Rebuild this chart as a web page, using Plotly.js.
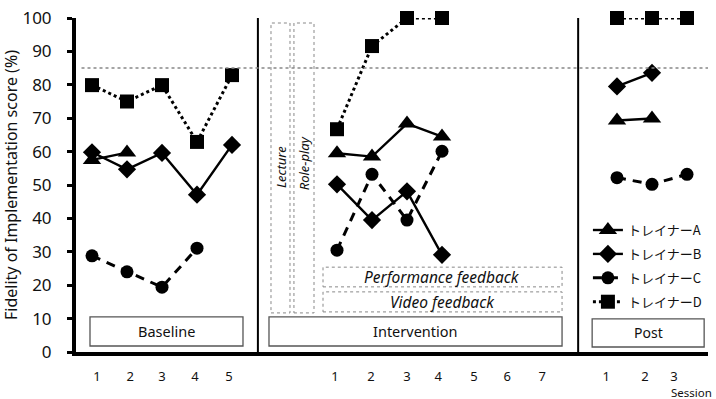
<!DOCTYPE html>
<html>
<head>
<meta charset="utf-8">
<script src="https://cdn.plot.ly/plotly-3.0.1.min.js"></script>
<style>html,body{margin:0;padding:0;background:#fff;}#chart{width:716px;height:399px;}</style>
</head>
<body>
<div id="chart"></div>
<script>
// ---- data (session values per phase, null = no session) ----
const trainers = ["トレイナーA", "トレイナーB", "トレイナーC", "トレイナーD"];
const baselineA = [57.5, 59.7, null, null, null];
const baselineB = [59.8, 54.7, 59.6, 47.1, 62.0];
const baselineC = [28.8, 24.0, 19.4, 31.1, null];
const baselineD = [79.9, 75.0, 79.9, 62.9, 82.9];
const interventionA = [59.5, 58.5, 68.4, 64.5, null, null, null];
const interventionB = [50.2, 39.5, 48.1, 29.1, null, null, null];
const interventionC = [30.5, 53.2, 39.5, 60.1, null, null, null];
const interventionD = [66.7, 91.6, 100, 100, null, null, null];
const postA = [69.3, 69.9, null];
const postB = [79.5, 83.6, null];
const postC = [52.2, 50.2, 53.2];
const postD = [100, 100, 100];
const criterion = 85;
const tickText = ["1","2","3","4","5","1","2","3","4","5","6","7","1","2","3"];
const phaseLabels = ["Baseline", "Intervention", "Post"];
const componentLabels = ["Lecture", "Role-play", "Performance feedback", "Video feedback"];

// ---- layout helpers ----
const phaseOffset = {baseline: 0, intervention: 7, post: 15};
function build(b, i, p) {
  const xs = [], ys = [];
  b.forEach((v, k) => { xs.push(k + 1 + phaseOffset.baseline); ys.push(v); });
  xs.push(null); ys.push(null);
  i.forEach((v, k) => { xs.push(k + 1 + phaseOffset.intervention); ys.push(v); });
  xs.push(null); ys.push(null);
  p.forEach((v, k) => { xs.push(k + 1 + phaseOffset.post); ys.push(v); });
  return {xs, ys};
}
const series = [
  build(baselineA, interventionA, postA),
  build(baselineB, interventionB, postB),
  build(baselineC, interventionC, postC),
  build(baselineD, interventionD, postD)
];
const styles = [
  {symbol: "triangle-up", size: 16, dash: "solid", width: 2.4},
  {symbol: "diamond", size: 14, dash: "solid", width: 2.4},
  {symbol: "circle", size: 13, dash: "9px,7px", width: 3},
  {symbol: "square", size: 14, dash: "dot", width: 3}
];
const traces = series.map((s, k) => ({
  x: s.xs, y: s.ys, name: trainers[k], type: "scatter", mode: "lines+markers",
  connectgaps: false, cliponaxis: false, legendgroup: "g" + k,
  line: {color: "#000", width: styles[k].width, dash: styles[k].dash},
  marker: {symbol: styles[k].symbol, size: styles[k].size, color: "#000"}
}));

const F = "Noto Sans, Open Sans, sans-serif";
const shapes = [
  // phase dividers
  {type: "line", xref: "x", yref: "y", x0: 5.74, x1: 5.74, y0: 0, y1: 101, line: {color: "#000", width: 2}},
  {type: "line", xref: "x", yref: "y", x0: 14.89, x1: 14.89, y0: 0, y1: 100, line: {color: "#000", width: 2}},
  // criterion line
  {type: "line", xref: "x", yref: "y", x0: 0.7, x1: 18.6, y0: criterion, y1: criterion, line: {color: "#888", width: 1.5, dash: "dot"}},
  // phase boxes
  {type: "rect", x0: 0.943, x1: 5.314, y0: 1.8, y1: 10.5, line: {color: "#555", width: 1.3}},
  {type: "rect", x0: 6.057, x1: 14.43, y0: 1.8, y1: 10.5, line: {color: "#555", width: 1.3}},
  {type: "rect", x0: 15.29, x1: 18.49, y0: 1.5, y1: 9.9, line: {color: "#555", width: 1.3}},
  // component boxes
  {type: "rect", x0: 6.114, x1: 6.657, y0: 11.7, y1: 98.5, line: {color: "#888", width: 1, dash: "dot"}},
  {type: "rect", x0: 6.77, x1: 7.343, y0: 11.7, y1: 98.5, line: {color: "#888", width: 1, dash: "dot"}},
  {type: "rect", x0: 7.6, x1: 14.43, y0: 19.5, y1: 25.4, line: {color: "#888", width: 1, dash: "dot"}},
  {type: "rect", x0: 7.6, x1: 14.43, y0: 12.0, y1: 18.0, line: {color: "#888", width: 1, dash: "dot"}}
];
const ann = (text, x, y, size, extra) => Object.assign({text, x, y, xref: "x", yref: "y", showarrow: false,
  font: {family: F, size, color: "#111"}}, extra || {});
const it = (size) => ({family: F, size, color: "#111", style: "italic"});
const annotations = [
  ann(phaseLabels[0], 3.13, 6.15, 14.5),
  ann(phaseLabels[1], 10.24, 6.15, 14.5),
  ann(phaseLabels[2], 16.89, 5.7, 14),
  ann(componentLabels[0], 6.385, 55.5, 13, {textangle: -90, font: it(13)}),
  ann(componentLabels[1], 7.056, 56.5, 13, {textangle: -90, font: it(13)}),
  ann(componentLabels[2], 11.0, 22.4, 15.5, {font: it(15.5)}),
  ann(componentLabels[3], 11.0, 15.0, 15.5, {font: it(15.5)}),
  {text: "Session", xref: "paper", yref: "paper", x: 1.0095, y: -0.122, showarrow: false, xanchor: "right", yanchor: "middle",
   font: {family: F, size: 11.5, color: "#111"}}
];

const layout = {
  width: 716, height: 399,
  margin: {l: 76, r: 8, t: 18, b: 47},
  paper_bgcolor: "#fff", plot_bgcolor: "#fff",
  showlegend: true,
  legend: {x: 0.81, y: 0.41, xanchor: "left", yanchor: "top", bgcolor: "rgba(0,0,0,0)",
           font: {family: "Noto Sans CJK JP, Noto Sans, sans-serif", size: 13, color: "#111"},
           tracegroupgap: 4, itemwidth: 30},
  xaxis: {range: [0.543, 18.6], showgrid: false, zeroline: false, showline: true, linecolor: "#000", linewidth: 4,
          ticks: "", tickmode: "array",
          tickvals: [1.14, 2.09, 3.0, 3.94, 4.91, 7.94, 8.97, 10.0, 10.89, 11.91, 12.86, 13.86, 15.69, 16.8, 17.63],
          ticktext: tickText, ticklabelstandoff: 9,
          tickfont: {family: F, size: 13, color: "#111"}},
  yaxis: {range: [0, 100], showgrid: false, zeroline: false, showline: true, linecolor: "#000", linewidth: 4,
          ticks: "outside", ticklen: 5, tickwidth: 3, tickcolor: "#000", dtick: 10, ticklabelstandoff: 12,
          tickfont: {family: F, size: 17, color: "#111"},
          title: {text: "Fidelity of Implementation score (%)", standoff: 3, font: {family: F, size: 16, color: "#111"}}},
  shapes, annotations
};
Plotly.newPlot("chart", traces, layout, {displayModeBar: false, staticPlot: true});
</script>
</body>
</html>
